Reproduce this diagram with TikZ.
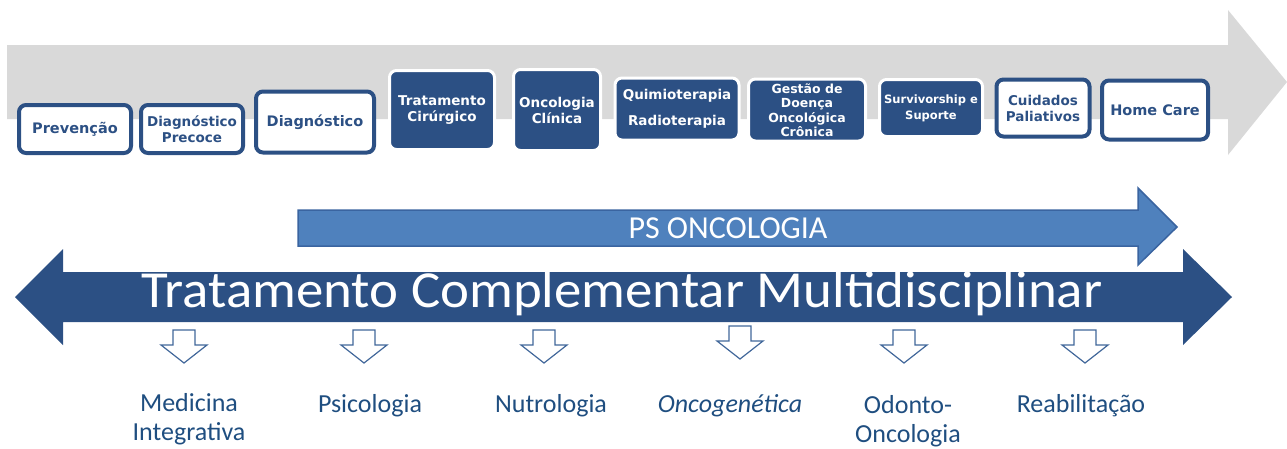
\documentclass[tikz,border=0pt]{standalone}
\usepackage{fontspec}
\setmainfont{Carlito}
\newfontfamily\boxfont{DejaVu Sans}
\usepackage{tikz}

\definecolor{bandgray}{HTML}{D9D9D9}
\definecolor{boxblue}{HTML}{2C5084}
\definecolor{psblue}{HTML}{4F81BD}
\definecolor{psedge}{HTML}{3A64A0}
\definecolor{labelblue}{HTML}{1F4E80}
\definecolor{hollowedge}{HTML}{41679A}

\begin{document}
\begin{tikzpicture}[x=1pt,y=-1pt]
\tikzset{
  lightbox/.style={draw=boxblue, line width=4pt, fill=white, rounded corners=7pt,
    text=boxblue, align=center, inner sep=0pt,
    font=\boxfont\bfseries\fontsize{13.5}{16}\selectfont},
  darkbox/.style={lightbox, draw=white, line width=3pt, fill=boxblue, text=white},
  bigger/.style={font=\boxfont\bfseries\fontsize{14.5}{17}\selectfont},
  arealabel/.style={text=labelblue, align=center, inner sep=0pt, anchor=base,
    font=\fontsize{26}{29}\selectfont},
  hollow/.style={draw=hollowedge, line width=1.2pt, fill=white, line join=miter}
}
\useasboundingbox (0,0) rectangle (1287,448);
\draw [fill=bandgray, draw=none] (7,45) -- (1228,45) -- (1228,10) -- (1287,82)
  -- (1228,155) -- (1228,119) -- (7,119) -- cycle;
\node [lightbox, bigger, minimum width=112, minimum height=48] (prevencao) at (75,129) {Prevenção};
\node [lightbox, minimum width=102, minimum height=48] (diagprecoce) at (192,129) {Diagnóstico\\Precoce};
\node [lightbox, bigger, minimum width=118, minimum height=61] (diagnostico) at (315,122) {Diagnóstico};
\node [darkbox, minimum width=105, minimum height=79] (cirurgico) at (442,110) {Tratamento\\Cirúrgico};
\node [darkbox, minimum width=87, minimum height=81] (clinica) at (557,110) {Oncologia\\Clínica};
\node [darkbox, minimum width=124, minimum height=62] (quimio) at (677,109) {Quimioterapia\\[10pt]Radioterapia};
\node [darkbox, minimum width=117, minimum height=62,
  font=\boxfont\bfseries\fontsize{12.5}{14.5}\selectfont] (gestao) at (807,110) {Gestão de\\Doença\\Oncológica\\Crônica};
\node [darkbox, minimum width=103, minimum height=57,
  font=\boxfont\bfseries\fontsize{11.5}{16}\selectfont] (survivor) at (931,108) {Survivorship e\\Suporte};
\node [lightbox, minimum width=93, minimum height=57] (paliativos) at (1043,108) {Cuidados\\Paliativos};
\node [lightbox, bigger, minimum width=106, minimum height=59] (homecare) at (1155,110) {Home Care};
\draw [fill=psblue, draw=psedge, line width=1.5pt] (298,210) -- (1138,210) -- (1138,188)
  -- (1177,227) -- (1138,265) -- (1138,246) -- (298,246) -- cycle;
\node [text=white, inner sep=0pt, anchor=base, font=\fontsize{32}{36}\selectfont] (ps) at (728,238) {PS ONCOLOGIA};
\draw [fill=boxblue, draw=none] (15,297) -- (63,249) -- (63,272) -- (1183,272) -- (1183,249)
  -- (1232,297) -- (1183,345) -- (1183,322) -- (63,322) -- (63,345) -- cycle;
\node [text=white, inner sep=0pt, anchor=base, font=\fontsize{52}{56}\selectfont] (tcm) at (622,307)
  {\scalebox{1.055}[1]{Tratamento Complementar Multidisciplinar}};
\foreach \c/\t in {184/330, 364/330, 544/330, 740/326, 904/330, 1085/330}
  \draw [hollow] (\c-11,\t) -- (\c+11,\t) -- (\c+11,\t+15) -- (\c+23,\t+15) -- (\c,\t+33)
    -- (\c-23,\t+15) -- (\c-11,\t+15) -- cycle;
\node [arealabel] (medicina) at (189,440) {Medicina\\Integrativa};
\node [arealabel] (psicologia) at (370,412) {Psicologia};
\node [arealabel] (nutrologia) at (551,412) {Nutrologia};
\node [arealabel, font=\itshape\fontsize{26}{29}\selectfont] (oncogenetica) at (730,412) {Oncogenética};
\node [arealabel] (odonto) at (908,442) {Odonto-\\Oncologia};
\node [arealabel] (reabilitacao) at (1081,412) {Reabilitação};
\end{tikzpicture}
\end{document}
